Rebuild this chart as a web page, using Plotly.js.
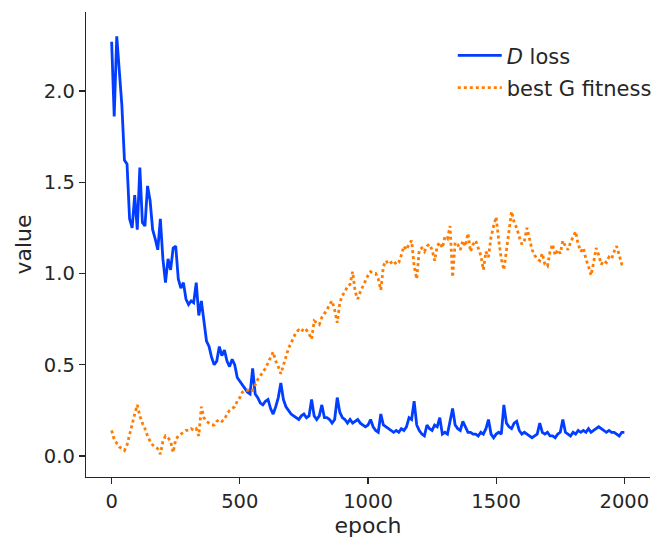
<!DOCTYPE html>
<html>
<head>
<meta charset="utf-8">
<script src="https://cdn.plot.ly/plotly-3.0.1.min.js"></script>
<style>html,body{margin:0;padding:0;background:#fff;}#chart{width:653px;height:538px;}</style>
</head>
<body>
<div id="chart"></div>
<script>
const dLoss = [
  2.27,1.86,2.30,2.12,1.92,1.62,1.60,1.30,1.25,1.43,
  1.24,1.58,1.28,1.26,1.48,1.40,1.24,1.19,1.13,1.30,
  1.08,0.95,1.08,1.02,1.14,1.15,0.97,0.92,0.95,0.86,
  0.83,0.85,0.84,0.95,0.77,0.85,0.73,0.63,0.60,0.54,
  0.50,0.52,0.60,0.55,0.58,0.52,0.49,0.53,0.50,0.43,
  0.41,0.39,0.37,0.35,0.34,0.48,0.34,0.32,0.29,0.28,
  0.30,0.31,0.26,0.23,0.27,0.32,0.40,0.31,0.27,0.25,
  0.23,0.22,0.21,0.20,0.22,0.23,0.21,0.22,0.31,0.22,
  0.20,0.22,0.28,0.21,0.21,0.20,0.18,0.20,0.32,0.24,
  0.21,0.20,0.18,0.20,0.18,0.19,0.20,0.18,0.17,0.16,
  0.17,0.20,0.16,0.14,0.13,0.23,0.17,0.16,0.15,0.14,
  0.13,0.14,0.13,0.15,0.14,0.16,0.21,0.20,0.30,0.17,
  0.14,0.12,0.11,0.17,0.15,0.14,0.17,0.16,0.21,0.12,
  0.13,0.12,0.19,0.26,0.17,0.15,0.14,0.19,0.16,0.13,
  0.13,0.12,0.12,0.11,0.13,0.12,0.15,0.20,0.12,0.10,
  0.12,0.13,0.12,0.28,0.18,0.16,0.15,0.18,0.19,0.14,
  0.12,0.13,0.12,0.11,0.10,0.11,0.12,0.18,0.13,0.12,
  0.13,0.11,0.11,0.10,0.12,0.13,0.20,0.13,0.12,0.11,
  0.13,0.12,0.14,0.13,0.14,0.13,0.15,0.13,0.14,0.15,
  0.16,0.15,0.14,0.13,0.14,0.13,0.13,0.12,0.11,0.13,
  0.13
];
const gFitness = [
  0.14,0.09,0.07,0.05,0.04,0.03,0.06,0.12,0.18,0.23,
  0.28,0.22,0.18,0.15,0.11,0.08,0.06,0.05,0.04,0.01,
  0.08,0.11,0.10,0.08,0.02,0.09,0.11,0.12,0.13,0.14,
  0.14,0.15,0.14,0.15,0.11,0.27,0.21,0.19,0.18,0.17,
  0.17,0.19,0.20,0.19,0.20,0.23,0.25,0.26,0.27,0.30,
  0.32,0.35,0.36,0.36,0.37,0.36,0.39,0.42,0.44,0.46,
  0.48,0.51,0.54,0.57,0.52,0.49,0.45,0.50,0.55,0.59,
  0.62,0.65,0.68,0.69,0.68,0.70,0.69,0.67,0.64,0.74,
  0.73,0.72,0.76,0.78,0.80,0.83,0.85,0.80,0.73,0.84,
  0.88,0.90,0.93,0.94,1.01,0.90,0.86,0.90,0.93,0.96,
  0.99,1.01,1.00,1.00,0.97,0.91,1.04,1.07,1.05,1.06,
  1.07,1.05,1.06,1.10,1.15,1.13,1.16,1.18,1.04,0.97,
  1.13,1.14,1.12,1.15,1.16,1.13,1.07,1.15,1.17,1.14,
  1.20,1.19,1.26,0.98,1.17,1.16,1.13,1.18,1.15,1.22,
  1.12,1.16,1.18,1.14,1.10,1.02,1.12,1.09,1.20,1.26,
  1.31,1.18,1.08,1.02,1.12,1.22,1.34,1.28,1.25,1.20,
  1.16,1.18,1.25,1.19,1.13,1.10,1.08,1.07,1.11,1.05,
  1.04,1.12,1.16,1.10,1.13,1.11,1.18,1.15,1.13,1.17,
  1.20,1.23,1.16,1.12,1.14,1.08,1.04,0.99,1.06,1.14,
  1.10,1.05,1.07,1.06,1.09,1.08,1.12,1.15,1.10,1.05,
  1.04
];
const epochStep = 10;
const epochs = dLoss.map((_, i) => i * epochStep);
const xTicks = [0, 500, 1000, 1500, 2000];
const yTicks = [0.0, 0.5, 1.0, 1.5, 2.0];
const yTickText = ['0.0', '0.5', '1.0', '1.5', '2.0'];

const ink = '#262626';
const fam = 'DejaVu Sans, sans-serif';
const tickFont = {family: fam, size: 19.5, color: ink};
const titleFont = {family: fam, size: 22, color: ink};
const legendFont = {family: fam, size: 21, color: ink};

const traces = [
  {x: epochs, y: dLoss, type: 'scatter', mode: 'lines', name: '<i>D</i> loss',
   legendgroup: 'a', line: {color: '#023eff', width: 2.8}},
  {x: epochs, y: gFitness, type: 'scatter', mode: 'lines', name: 'best G fitness',
   legendgroup: 'b', line: {color: '#ff7c00', width: 2.8, dash: 'dot'}}
];

const axisBase = {
  showline: true, linecolor: ink, linewidth: 1.25, mirror: false,
  showgrid: false, zeroline: false,
  ticks: 'outside', ticklen: 6, tickwidth: 1.25, tickcolor: ink,
  tickfont: tickFont
};

const layout = {
  width: 653, height: 538,
  margin: {l: 86, r: 3, t: 12, b: 61, autoexpand: false},
  paper_bgcolor: '#fff', plot_bgcolor: '#fff',
  font: tickFont,
  showlegend: true,
  legend: {x: 1.012, xanchor: 'right', y: 0.95, yanchor: 'top', font: legendFont,
           bgcolor: 'rgba(0,0,0,0)', traceorder: 'grouped', tracegroupgap: 2,
           itemwidth: 44},
  xaxis: Object.assign({}, axisBase, {
    range: [-100, 2100], tickvals: xTicks, ticktext: xTicks.map(String),
    title: {text: 'epoch', font: titleFont, standoff: 4}
  }),
  yaxis: Object.assign({}, axisBase, {
    range: [-0.115, 2.433], tickvals: yTicks, ticktext: yTickText,
    title: {text: 'value', font: titleFont, standoff: 6}
  })
};

Plotly.newPlot('chart', traces, layout, {displayModeBar: false, staticPlot: true});
</script>
</body>
</html>
